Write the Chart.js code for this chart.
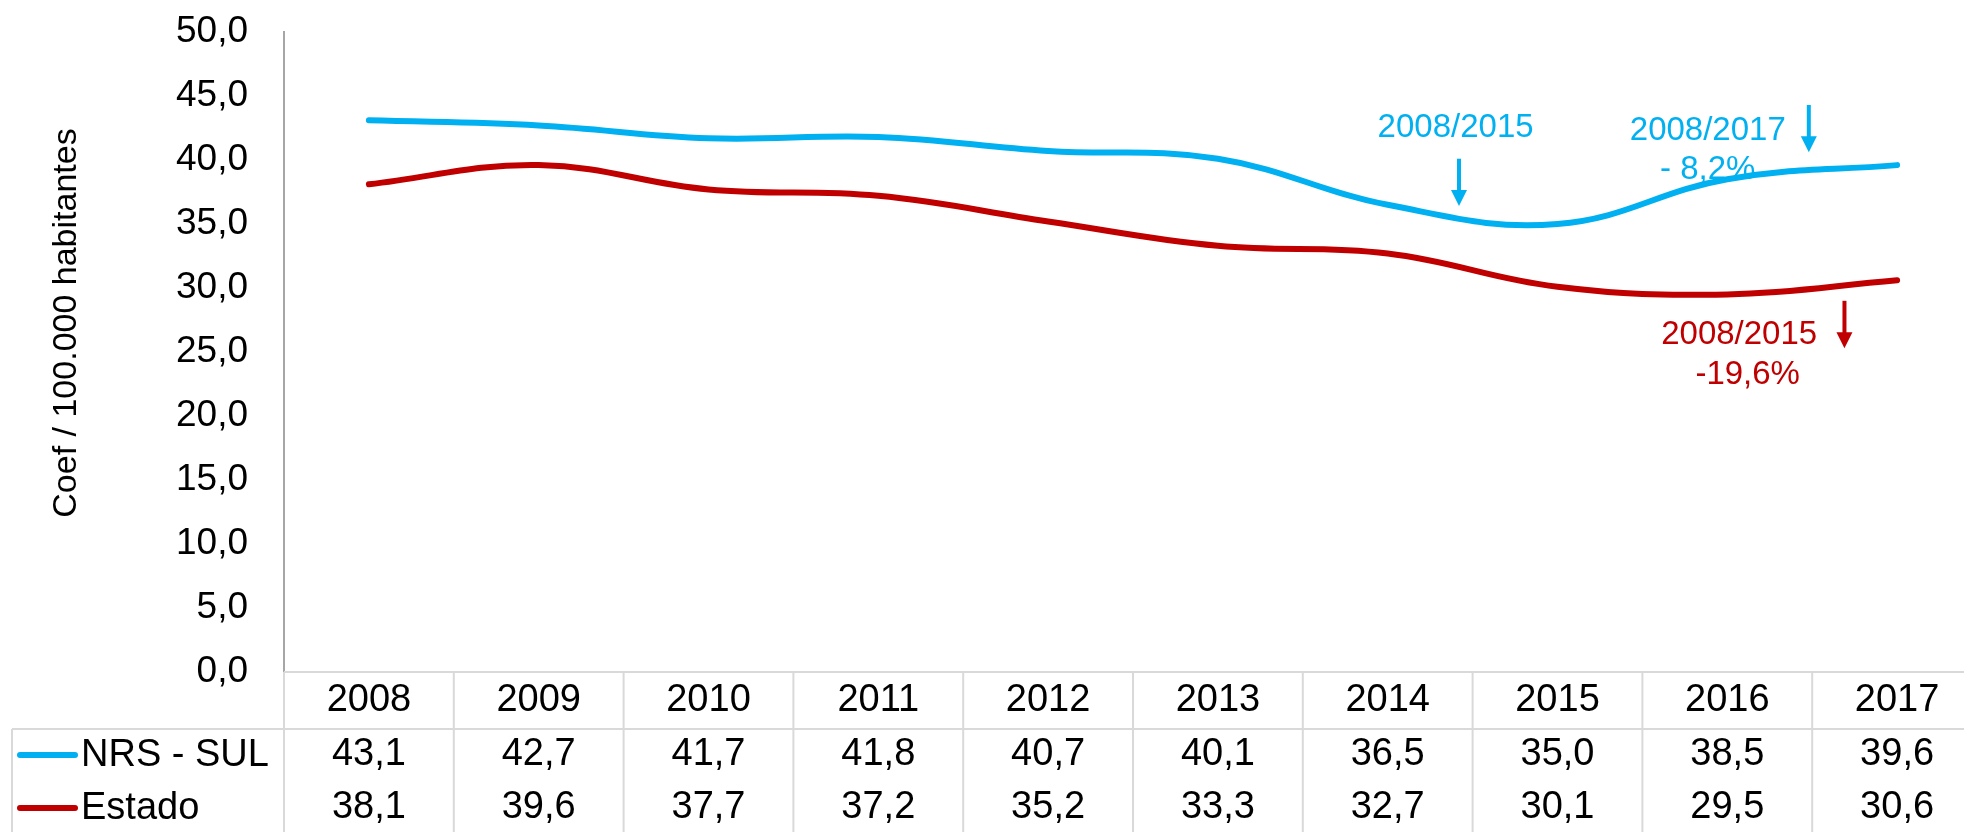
<!DOCTYPE html>
<html>
<head>
<meta charset="utf-8">
<script src="https://cdn.jsdelivr.net/npm/chart.js@4/dist/chart.umd.min.js"></script>
<style>
html,body{margin:0;padding:0;background:#fff;overflow:hidden;width:1964px;height:832px}
canvas{display:block}
</style>
</head>
<body>
<canvas id="c" width="1982" height="832"></canvas>
<script>
// ---- data ----
const years = ['2008','2009','2010','2011','2012','2013','2014','2015','2016','2017'];
const nrsSul = [43.1,42.7,41.7,41.8,40.7,40.1,36.5,35.0,38.5,39.6];
const estado = [38.1,39.6,37.7,37.2,35.2,33.3,32.7,30.1,29.5,30.6];
const seriesNames = ['NRS - SUL','Estado'];
const yTicksMin = 0, yTicksMax = 50, yTicksStep = 5;
const yTitle = 'Coef / 100.000 habitantes';
const noteTexts = ['2008/2015', '2008/2017', '- 8,2%', '2008/2015', '-19,6%'];

// ---- styles ----
const FONT = '"Liberation Sans", Arial, Helvetica, sans-serif';
const CYAN = '#00B0F0', RED = '#C00000';
const fmt = v => v.toFixed(1).replace('.', ',');

// annotation placement in data space (category index, value)
const notes = [
  {text: noteTexts[0], xi: 6.40, v: 42.5, color: CYAN},
  {text: noteTexts[1], xi: 7.885, v: 42.3, color: CYAN},
  {text: noteTexts[2], xi: 7.885, v: 39.2, color: CYAN},
  {text: noteTexts[3], xi: 8.07, v: 26.3, color: RED},
  {text: noteTexts[4], xi: 8.12, v: 23.2, color: RED}
];
const arrows = [
  {xi: 6.42, from: 40.1, to: 36.4, color: CYAN},
  {xi: 8.48, from: 44.3, to: 40.6, color: CYAN},
  {xi: 8.69, from: 29.0, to: 25.3, color: RED}
];

const tablePlugin = {
  id: 'tablePlugin',
  afterDraw(chart) {
    const ctx = chart.ctx;
    const xs = chart.scales.x, ys = chart.scales.y, area = chart.chartArea;
    const W = chart.width;
    const colW = xs.getPixelForValue(1) - xs.getPixelForValue(0);
    const t0 = area.bottom;          // table top
    const t1 = t0 + 57;              // header bottom
    const bottom = chart.height;
    const rowMid = [ (t0 + t1) / 2, t1 + 26, t1 + 79 ];

    ctx.save();
    ctx.strokeStyle = '#D9D9D9';
    ctx.lineWidth = 2;
    ctx.beginPath();
    ctx.moveTo(area.left, t0); ctx.lineTo(W, t0);
    ctx.moveTo(12, t1); ctx.lineTo(W, t1);
    ctx.moveTo(12, t1); ctx.lineTo(12, bottom);
    for (let i = 0; i <= years.length; i++) {
      const bx = xs.getPixelForValue(i) - colW / 2;
      ctx.moveTo(bx, t0); ctx.lineTo(bx, bottom);
    }
    ctx.stroke();

    ctx.fillStyle = '#000';
    ctx.textAlign = 'center';
    ctx.textBaseline = 'middle';
    ctx.font = '38px ' + FONT;
    years.forEach((yr, i) => {
      const cx = xs.getPixelForValue(i);
      ctx.fillText(yr, cx, rowMid[0]);
      ctx.fillText(fmt(nrsSul[i]), cx, rowMid[1]);
      ctx.fillText(fmt(estado[i]), cx, rowMid[2]);
    });

    const cols = [CYAN, RED];
    seriesNames.forEach((name, k) => {
      const yy = rowMid[k + 1];
      ctx.strokeStyle = cols[k];
      ctx.lineWidth = 6;
      ctx.lineCap = 'round';
      ctx.beginPath(); ctx.moveTo(20, yy); ctx.lineTo(75, yy); ctx.stroke();
      ctx.fillStyle = '#000';
      ctx.textAlign = 'left';
      ctx.fillText(name, 81, yy + 1);
    });

    ctx.save();
    ctx.translate(67, 323);
    ctx.rotate(-Math.PI / 2);
    ctx.textAlign = 'center';
    ctx.textBaseline = 'middle';
    ctx.font = '34px ' + FONT;
    ctx.fillStyle = '#000';
    ctx.fillText(yTitle, 0, 0);
    ctx.restore();

    ctx.font = '33px ' + FONT;
    ctx.textAlign = 'center';
    ctx.textBaseline = 'middle';
    const xAt = xi => xs.getPixelForValue(0) + xi * colW;
    notes.forEach(n => {
      ctx.fillStyle = n.color;
      ctx.fillText(n.text, xAt(n.xi), ys.getPixelForValue(n.v));
    });
    arrows.forEach(a => {
      const ax = xAt(a.xi);
      const y1 = ys.getPixelForValue(a.from), y2 = ys.getPixelForValue(a.to);
      ctx.strokeStyle = a.color;
      ctx.fillStyle = a.color;
      ctx.lineWidth = 4;
      ctx.lineCap = 'butt';
      ctx.beginPath(); ctx.moveTo(ax, y1); ctx.lineTo(ax, y2 - 14); ctx.stroke();
      ctx.beginPath();
      ctx.moveTo(ax - 8, y2 - 16); ctx.lineTo(ax + 8, y2 - 16); ctx.lineTo(ax, y2);
      ctx.closePath(); ctx.fill();
    });
    ctx.restore();
  }
};

new Chart(document.getElementById('c'), {
  type: 'line',
  data: {
    labels: years,
    datasets: [
      {label: seriesNames[0], data: nrsSul, borderColor: CYAN, backgroundColor: CYAN,
       borderWidth: 6, pointRadius: 0, tension: 0.4, borderCapStyle: 'round', fill: false},
      {label: seriesNames[1], data: estado, borderColor: RED, backgroundColor: RED,
       borderWidth: 6, pointRadius: 0, tension: 0.4, borderCapStyle: 'round', fill: false}
    ]
  },
  options: {
    responsive: false,
    animation: false,
    devicePixelRatio: 1,
    layout: {padding: {top: 32, bottom: 160, left: 0, right: 0}},
    plugins: {legend: {display: false}, tooltip: {enabled: false}, title: {display: false}},
    scales: {
      x: {type: 'category', offset: true, display: false},
      y: {
        min: yTicksMin, max: yTicksMax,
        afterFit(s) { s.width = 284; s.paddingTop = 22; s.paddingBottom = 22; },
        grid: {display: true, drawOnChartArea: false, drawTicks: true, tickLength: 36, tickColor: 'rgba(0,0,0,0)'},
        border: {display: true, color: '#A6A6A6', width: 2},
        ticks: {
          stepSize: yTicksStep,
          padding: 0,
          color: '#000',
          font: {family: FONT, size: 37},
          callback: v => fmt(v)
        },
        title: {display: false}
      }
    }
  },
  plugins: [tablePlugin]
});
</script>
</body>
</html>
